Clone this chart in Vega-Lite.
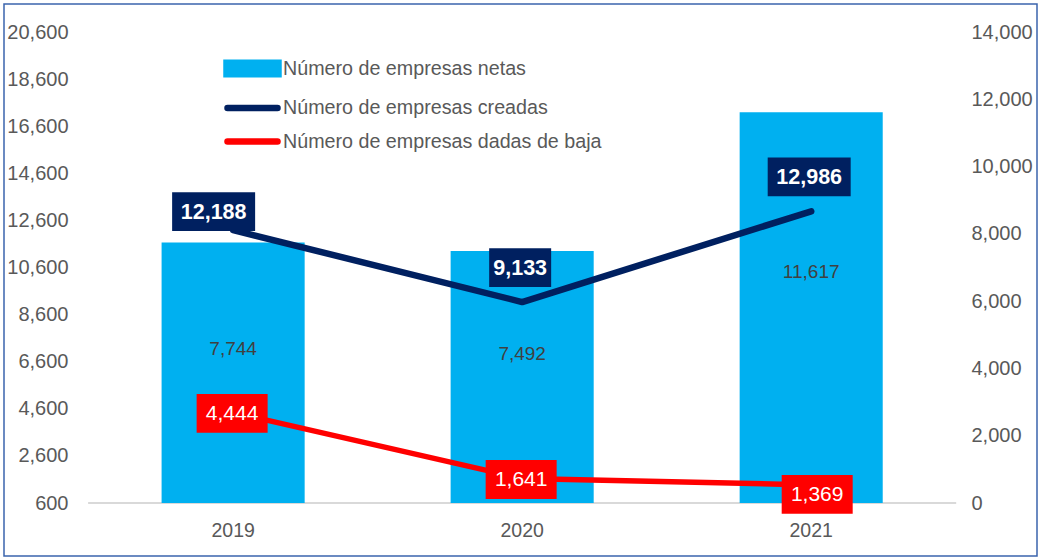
{
  "$schema": "https://vega.github.io/schema/vega-lite/v6.json",
  "width": 1033,
  "height": 552,
  "autosize": {"type": "none"},
  "padding": {"left": 4, "top": 4, "right": 5, "bottom": 2},
  "background": "white",
  "config": {
    "view": {"stroke": "#3B64AD", "strokeWidth": 1.5},
    "font": "Liberation Sans",
    "text": {"font": "Liberation Sans"},
    "axis": {"grid": false, "domain": false, "ticks": false, "title": null, "labelFont": "Liberation Sans", "labelColor": "#595959"}
  },
  "data": {
    "values": [
      {"year": "2019", "serie": "Número de empresas netas", "valor": 7744},
      {"year": "2020", "serie": "Número de empresas netas", "valor": 7492},
      {"year": "2021", "serie": "Número de empresas netas", "valor": 11617},
      {"year": "2019", "serie": "Número de empresas creadas", "valor": 12188},
      {"year": "2020", "serie": "Número de empresas creadas", "valor": 9133},
      {"year": "2021", "serie": "Número de empresas creadas", "valor": 12986},
      {"year": "2019", "serie": "Número de empresas dadas de baja", "valor": 4444},
      {"year": "2020", "serie": "Número de empresas dadas de baja", "valor": 1641},
      {"year": "2021", "serie": "Número de empresas dadas de baja", "valor": 1369}
    ]
  },
  "encoding": {
    "x": {
      "field": "year",
      "type": "ordinal",
      "scale": {"paddingInner": 0, "paddingOuter": 0.287, "align": 0.51},
      "axis": {"orient": "bottom", "offset": -53, "labelPadding": 18, "labelFontSize": 19.5, "labelAngle": 0}
    }
  },
  "layer": [
    {
      "transform": [{"filter": "datum.serie === 'Número de empresas netas'"}],
      "encoding": {
        "y": {
          "field": "valor",
          "type": "quantitative",
          "scale": {"domain": [-1575.3, 14832.3], "nice": false, "zero": false},
          "axis": {"orient": "right", "offset": -68, "labelPadding": 2, "labelFontSize": 20, "values": [0, 2000, 4000, 6000, 8000, 10000, 12000, 14000], "format": ",.0f"}
        }
      },
      "layer": [
        {
          "mark": {"type": "tick", "color": "#D9D9D9", "thickness": 2, "size": 290, "opacity": 1},
          "encoding": {"y": {"datum": 0, "type": "quantitative"}}
        },
        {
          "mark": {"type": "bar", "width": {"band": 0.495}},
          "encoding": {
            "color": {
              "field": "serie",
              "type": "nominal",
              "scale": {
                "domain": ["Número de empresas netas", "Número de empresas creadas", "Número de empresas dadas de baja"],
                "range": ["#00B0F0", "#002060", "#FF0000"]
              },
              "legend": {
                "orient": "none",
                "legendX": 235,
                "legendY": 51,
                "title": null,
                "labelFont": "Liberation Sans",
                "labelFontSize": 19.7,
                "labelColor": "#595959",
                "labelLimit": 600,
                "symbolSize": 400,
                "labelOffset": 17,
                "rowPadding": 6.5,
                "symbolType": "stroke",
                "encode": {
                  "symbols": {
                    "update": {
                      "shape": [
                        {"test": "datum.value === 'Número de empresas netas'", "value": "M-2.6,-0.58H2.6V0.58H-2.6Z"},
                        {"value": "M-2.5,0H2.5"}
                      ],
                      "fill": [
                        {"test": "datum.value === 'Número de empresas netas'", "value": "#00B0F0"},
                        {"value": "transparent"}
                      ],
                      "stroke": [
                        {"test": "datum.value === 'Número de empresas netas'", "value": "transparent"},
                        {"test": "datum.value === 'Número de empresas creadas'", "value": "#002060"},
                        {"value": "#FF0000"}
                      ],
                      "strokeWidth": {"value": 6.5},
                      "strokeCap": {"value": "round"},
                      "opacity": {"value": 1}
                    }
                  }
                }
              }
            }
          }
        }
      ]
    },
    {
      "transform": [{"filter": "datum.serie === 'Número de empresas netas'"}],
      "mark": {"type": "text", "fontSize": 19, "color": "#404040", "baseline": "middle", "align": "center"},
      "encoding": {
        "y": {
          "field": "valor",
          "type": "quantitative",
          "scale": {"domain": [-2663.2, 25075.7], "nice": false, "zero": false},
          "axis": null
        },
        "text": {"field": "valor", "type": "quantitative", "format": ",.0f"}
      }
    },
    {
      "transform": [{"filter": "datum.serie !== 'Número de empresas netas'"}],
      "encoding": {
        "y": {
          "field": "valor",
          "type": "quantitative",
          "scale": {"domain": [-1650.5, 21789], "nice": false, "zero": false},
          "axis": {"orient": "left", "offset": -66, "labelPadding": 2, "labelFontSize": 20, "values": [600, 2600, 4600, 6600, 8600, 10600, 12600, 14600, 16600, 18600, 20600], "format": ",.0f"}
        }
      },
      "layer": [
        {
          "mark": {"type": "line", "strokeCap": "round", "strokeJoin": "round"},
          "encoding": {
            "color": {"field": "serie", "type": "nominal"},
            "strokeWidth": {"condition": {"test": "datum.serie === 'Número de empresas creadas'", "value": 6.5}, "value": 5.5}
          }
        },
        {
          "transform": [{"filter": "datum.serie === 'Número de empresas creadas' && datum.year === '2019'"}],
          "layer": [
            {
              "mark": {"type": "point", "filled": true, "size": 1600, "color": "#002060", "opacity": 1, "strokeWidth": 0, "xOffset": -19.5, "yOffset": -18.5},
              "encoding": {"shape": {"condition": {"test": "datum.valor >= 10000", "value": "M-2.075,-0.97H2.075V0.97H-2.075Z"}, "value": "M-1.55,-0.97H1.55V0.97H-1.55Z"}}
            },
            {
              "mark": {"type": "text", "fontSize": 21.5, "fontWeight": "bold", "color": "white", "align": "center", "baseline": "middle", "xOffset": -19.5, "yOffset": -17.5},
              "encoding": {"text": {"field": "valor", "type": "quantitative", "format": ",.0f"}}
            }
          ]
        },
        {
          "transform": [{"filter": "datum.serie === 'Número de empresas creadas' && datum.year !== '2019'"}],
          "layer": [
            {
              "mark": {"type": "point", "filled": true, "size": 1600, "color": "#002060", "opacity": 1, "strokeWidth": 0, "xOffset": -2, "yOffset": -34.5},
              "encoding": {"shape": {"condition": {"test": "datum.valor >= 10000", "value": "M-2.075,-0.97H2.075V0.97H-2.075Z"}, "value": "M-1.55,-0.97H1.55V0.97H-1.55Z"}}
            },
            {
              "mark": {"type": "text", "fontSize": 21.5, "fontWeight": "bold", "color": "white", "align": "center", "baseline": "middle", "xOffset": -2, "yOffset": -33.5},
              "encoding": {"text": {"field": "valor", "type": "quantitative", "format": ",.0f"}}
            }
          ]
        },
        {
          "transform": [{"filter": "datum.serie === 'Número de empresas dadas de baja' && datum.year !== '2021'"}],
          "layer": [
            {
              "mark": {"type": "point", "filled": true, "size": 1600, "color": "#FF0000", "opacity": 1, "strokeWidth": 0, "shape": "M-1.775,-0.97H1.775V0.97H-1.775Z", "xOffset": -1, "yOffset": 1}
            },
            {
              "mark": {"type": "text", "fontSize": 21, "color": "white", "align": "center", "baseline": "middle", "xOffset": -1, "yOffset": 2},
              "encoding": {"text": {"field": "valor", "type": "quantitative", "format": ",.0f"}}
            }
          ]
        },
        {
          "transform": [{"filter": "datum.serie === 'Número de empresas dadas de baja' && datum.year === '2021'"}],
          "layer": [
            {
              "mark": {"type": "point", "filled": true, "size": 1600, "color": "#FF0000", "opacity": 1, "strokeWidth": 0, "shape": "M-1.775,-0.97H1.775V0.97H-1.775Z", "xOffset": 6, "yOffset": 9.5}
            },
            {
              "mark": {"type": "text", "fontSize": 21, "color": "white", "align": "center", "baseline": "middle", "xOffset": 6, "yOffset": 10.5},
              "encoding": {"text": {"field": "valor", "type": "quantitative", "format": ",.0f"}}
            }
          ]
        }
      ]
    }
  ],
  "resolve": {"scale": {"y": "independent"}}
}
